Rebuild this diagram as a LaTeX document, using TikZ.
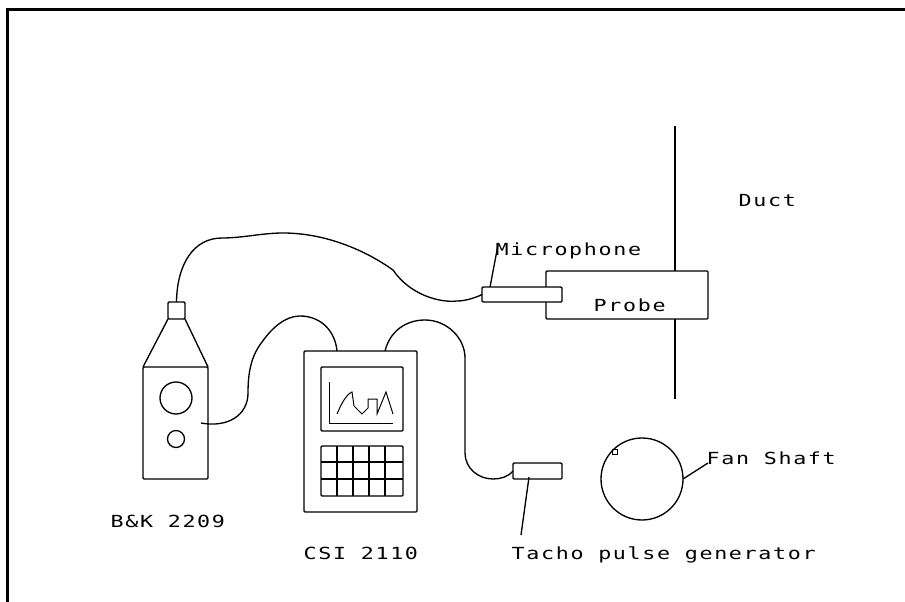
\documentclass[tikz,border=0pt]{standalone}
\usepackage{fontspec}
\newfontfamily\plotfont[FakeStretch=1.3,LetterSpace=10]{DejaVu Sans Mono}
\usetikzlibrary{positioning}

\begin{document}
\begin{tikzpicture}[
			x=0.75pt,y=-0.75pt,
			line width=1pt,
			box/.style={
					draw,
					rectangle,
					rounded corners=0.8pt,
					inner sep=0pt,
					outer sep=0pt
				},
			ring/.style={
					draw,
					circle,
					inner sep=0pt,
					outer sep=0pt
				},
			lbl/.style={
					anchor=base west,
					inner sep=0pt,
					font=\plotfont\fontsize{12.5}{15}\selectfont
				}
		]

		\useasboundingbox (0,0) rectangle (905,602);

		% frame
		\draw[line width=2.1pt] (7.5,602)--(7.5,9.5)--(905,9.5);

		% sound level meter
		\node[box,minimum width=48.75pt,minimum height=84pt] (bk) at (175.5,423) {};
		\node[box,minimum width=12.75pt,minimum height=12.75pt] (bkcap) at (176.5,310.5) {};
		\node[ring,minimum size=24pt] (bkbig) at (176,398) {};
		\node[ring,minimum size=12.75pt] (bksmall) at (176,439) {};
		\draw (bkcap.south west)--(bk.north west);
		\draw (bkcap.south east)--(bk.north east);

		% analyser
		\node[box,minimum width=84.75pt,minimum height=120.75pt] (csi) at (360.5,431.5) {};
		\node[box,minimum width=61.5pt,minimum height=48pt] (screen) at (362,399) {};
		\node[box,minimum width=61.5pt,minimum height=37.5pt] (keypad) at (362,471) {};
		\foreach \x in {337,353,369,385}
		\draw (\x,446)--(\x,496);
		\foreach \y in {462,479}
		\draw (321,\y)--(403,\y);

		\draw[line width=0.75pt] (329,382)--(329,423)--(393,423);
		\draw[line width=0.75pt] (337,414) .. controls (342,402) and (347,394) .. (352,392)
		--(354,406)--(362,414)--(368,408)--(368,399)--(377,399)--(377,414)--(386,392)--(393,414);

		% duct and probe
		\coordinate (ducttop) at (675,126);
		\coordinate (ductbot) at (675,399);
		\node[box,minimum width=121.5pt,minimum height=36pt] (probe) at (627,295) {};
		\node[box,fill=white,minimum width=60pt,minimum height=11.25pt] (mic) at (522,294.5) {};
		\draw (ducttop)--(ducttop |- probe.north);
		\draw (ductbot)--(ductbot |- probe.south);

		% tacho and shaft
		\node[box,minimum width=36.75pt,minimum height=12pt] (tacho) at (537.5,471) {};
		\node[ring,minimum size=61.5pt] (shaft) at (642,479) {};
		\node[box,rounded corners=0pt,minimum size=3.75pt] (mark) at (615,452) {};

		% labels
		\node[lbl] (duct) at (738,207) {Duct};
		\node[lbl] (miclbl) at (495,255) {Microphone};
		\node[lbl] (probelbl) at (593,311) {Probe};
		\node[lbl] (fanlbl) at (706,464) {Fan Shaft};
		\node[lbl] (bklbl) at (110,527) {B\&K 2209};
		\node[lbl] (csilbl) at (303,559) {CSI 2110};
		\node[lbl] (tacholbl) at (511,559) {Tacho pulse generator};

		% cables
		\coordinate (bkout) at (201,423);
		\coordinate (csiin) at (337,351);
		\coordinate (csiout) at (385,351);

		\draw (bkcap.north) .. controls (177,265) and (193,238) .. (222,238)
		.. controls (243,238) and (262,233) .. (283,233)
		.. controls (325,233) and (365,250) .. (393,270)
		.. controls (410,295) and (440,303) .. (457,301)
		.. controls (465,301) and (475,298) .. (mic.west);

		\draw (bkout) .. controls (228,428) and (248,415) .. (248,393)
		.. controls (248,370) and (252,355) .. (262,342)
		.. controls (272,328) and (285,316) .. (300,316)
		.. controls (320,316) and (335,330) .. (csiin);

		\draw (csiout) .. controls (390,331) and (406,320) .. (425,320)
		.. controls (447,320) and (465,338) .. (465,358)
		--(465,453)
		.. controls (465,468) and (478,479) .. (493,479)
		.. controls (500,479) and (508,477) .. (tacho.west);

		% leaders
		\coordinate (micfoot) at (490,287);
		\coordinate (micend) at (498,245);
		\coordinate (tachofoot) at (529,477);
		\coordinate (tachoend) at (521,535);
		\coordinate (shaftfoot) at (683,479);
		\coordinate (fanend) at (708,463);

		\draw (micfoot)--(micend);
		\draw (tachofoot)--(tachoend);
		\draw (shaftfoot)--(fanend);

	\end{tikzpicture}
\end{document}
